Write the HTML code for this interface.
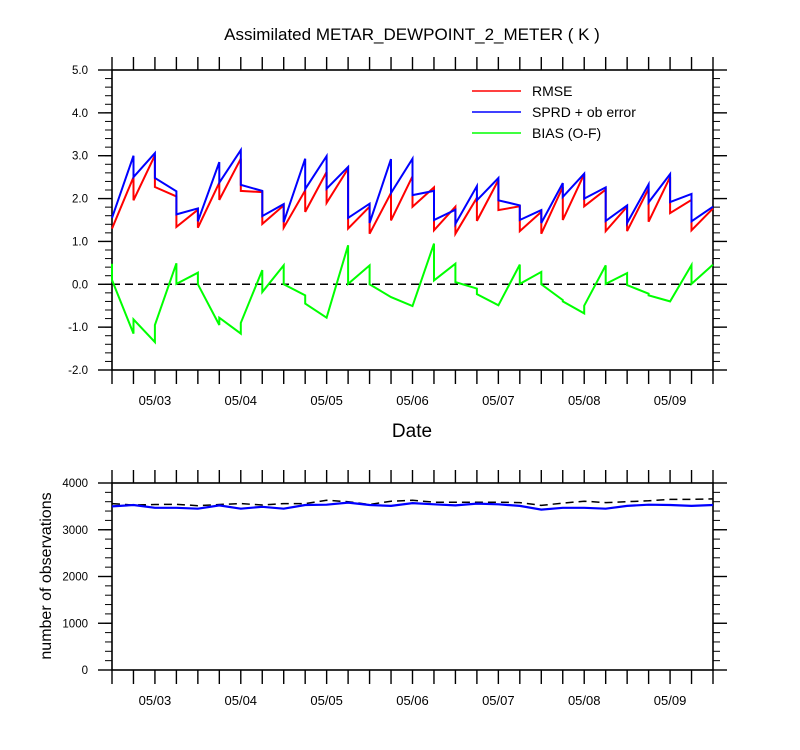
<!DOCTYPE html>
<html><head><meta charset="utf-8"><style>
html,body{margin:0;padding:0;background:#fff;}
svg{display:block;font-family:"Liberation Sans",sans-serif;}
</style></head><body>
<svg id="chart" width="800" height="750" xmlns="http://www.w3.org/2000/svg">
<text x="412" y="40" font-size="17" text-anchor="middle">Assimilated METAR_DEWPOINT_2_METER ( K )</text>
<g id="topPanel"></g>
<g id="botPanel"></g>
<text x="412" y="437" font-size="19" text-anchor="middle">Date</text>
<text transform="translate(51,576) rotate(-90)" font-size="16" text-anchor="middle">number of observations</text>
<g>
<line x1="472" y1="91" x2="521" y2="91" stroke="#ff0000" stroke-width="1.6"/>
<text x="532" y="96" font-size="14">RMSE</text>
<line x1="472" y1="112" x2="521" y2="112" stroke="#0000ff" stroke-width="1.6"/>
<text x="532" y="117" font-size="14">SPRD + ob error</text>
<line x1="472" y1="133" x2="521" y2="133" stroke="#00ff00" stroke-width="1.6"/>
<text x="532" y="138" font-size="14">BIAS (O-F)</text>
</g>
</svg>
<script>
// time index in 6h steps from 05/02 12Z
const dayLabels = ["05/03","05/04","05/05","05/06","05/07","05/08","05/09"];
const dayIndex = [2,6,10,14,18,22,26];
const topTicks = [5,4,3,2,1,0,-1,-2];
const topTickLabels = ["5.0","4.0","3.0","2.0","1.0","0.0","-1.0","-2.0"];
const botTicks = [4000,3000,2000,1000,0];
const botTickLabels = ["4000","3000","2000","1000","0"];
// prior (end of forecast) and posterior values at each 6h time
const rmsePrior = [1.30,2.50,3.01,2.05,1.74,2.37,2.93,2.15,1.84,2.19,2.62,2.70,1.81,2.13,2.52,2.26,1.81,2.02,2.43,1.82,1.69,2.27,2.57,2.21,1.81,2.23,2.50,1.97,1.77];
const rmsePost  = [1.30,1.96,2.27,1.34,1.32,1.97,2.18,1.41,1.32,1.69,1.90,1.30,1.18,1.49,1.81,1.26,1.18,1.48,1.73,1.24,1.18,1.50,1.82,1.24,1.24,1.46,1.66,1.26,1.77];
const sprdPrior = [1.55,3.00,3.06,2.17,1.77,2.85,3.13,2.18,1.87,2.93,2.99,2.74,1.88,2.92,2.93,2.18,1.74,2.29,2.48,1.84,1.73,2.36,2.58,2.26,1.84,2.33,2.57,2.11,1.81];
const sprdPost  = [1.55,2.50,2.48,1.63,1.47,2.37,2.32,1.59,1.45,2.22,2.23,1.55,1.43,2.13,2.08,1.50,1.41,1.96,1.96,1.50,1.43,2.04,2.00,1.48,1.43,1.91,1.92,1.47,1.81];
const biasPrior = [0.48,-1.15,-1.35,0.49,0.27,-0.95,-1.15,0.33,0.44,-0.26,-0.78,0.91,0.44,-0.30,-0.51,0.95,0.48,-0.10,-0.49,0.46,0.29,-0.37,-0.68,0.44,0.26,-0.22,-0.40,0.45,0.46];
const biasPost  = [0.10,-0.82,-0.95,0.01,0.00,-0.78,-0.90,-0.18,0.00,-0.45,-0.78,0.01,0.00,-0.30,-0.51,0.09,0.05,-0.23,-0.49,0.01,0.00,-0.40,-0.50,0.01,-0.02,-0.26,-0.40,0.01,0.46];
const obsUsed = [3500,3530,3470,3470,3450,3520,3450,3490,3450,3530,3535,3580,3530,3510,3570,3545,3520,3560,3545,3510,3430,3470,3470,3450,3510,3535,3530,3510,3530];
const obsPossible = [3560,3530,3540,3545,3515,3540,3560,3530,3560,3560,3630,3600,3540,3610,3630,3590,3590,3590,3590,3580,3520,3570,3610,3580,3600,3620,3650,3650,3660];

const NS="http://www.w3.org/2000/svg";
const X0=112,X1=713,NT=28;
const xs=i=>X0+(X1-X0)*i/NT;
const yTop=v=>370-(v+2)*(300/7);
const yBot=v=>670-v*(187/4000);
function mk(tag,attrs,parent){const e=document.createElementNS(NS,tag);for(const k in attrs)e.setAttribute(k,attrs[k]);parent.appendChild(e);return e;}
const gTop=document.getElementById('topPanel'), gBot=document.getElementById('botPanel');

function frame(g,y0,y1,name){
  const r=mk('rect',{x:X0,y:y0,width:X1-X0,height:y1-y0,fill:'none',stroke:'#000','stroke-width':1.6},g);
  
  
  for(let i=0;i<=NT;i++){
    const t=mk('line',{x1:xs(i),x2:xs(i),y1:y0,y2:y0-13,stroke:'#000','stroke-width':1.4},g);
    
    
    const b=mk('line',{x1:xs(i),x2:xs(i),y1:y1,y2:y1+14,stroke:'#000','stroke-width':1.4},g);
    
    
  }
  dayLabels.forEach((d,k)=>{
    const t=mk('text',{x:xs(dayIndex[k]),y:y1+35,'font-size':13,'text-anchor':'middle'},g);
    t.textContent=d;
    
    
  });
}
function yaxis(g,ticks,labels,yf,minorStep,lo,hi){
  for(let v=lo;v<=hi+1e-9;v+=minorStep){
    const y=yf(v);
    const l=mk('line',{x1:X0-7,x2:X0,y1:y,y2:y,stroke:'#000','stroke-width':1},g);
    
    
    const r=mk('line',{x1:X1,x2:X1+7,y1:y,y2:y,stroke:'#000','stroke-width':1},g);
    
    
  }
  ticks.forEach((v,k)=>{
    const y=yf(v);
    const l=mk('line',{x1:X0-14,x2:X0,y1:y,y2:y,stroke:'#000','stroke-width':1.4},g);
    
    
    const r=mk('line',{x1:X1,x2:X1+14,y1:y,y2:y,stroke:'#000','stroke-width':1.4},g);
    
    
    const t=mk('text',{x:88,y:y+4,'font-size':11.5,'text-anchor':'end'},g);
    t.textContent=labels[k];
    
    
  });
}
frame(gTop,70,370,'error-panel');
yaxis(gTop,topTicks,topTickLabels,yTop,0.2,-2,5);
frame(gBot,483,670,'obs-panel');
yaxis(gBot,botTicks,botTickLabels,yBot,200,0,4000);

const zl=mk('line',{x1:X0,x2:X1,y1:yTop(0),y2:yTop(0),stroke:'#000','stroke-width':1.5,'stroke-dasharray':'8,5'},gTop);



function saw(prior,post,color,name){
  let d='';
  for(let i=0;i<prior.length;i++){
    d+=(i?'L':'M')+xs(i).toFixed(1)+','+yTop(prior[i]).toFixed(1);
    d+='L'+xs(i).toFixed(1)+','+yTop(post[i]).toFixed(1);
  }
  const p=mk('path',{d:d,fill:'none',stroke:color,'stroke-width':2,'stroke-linejoin':'miter'},gTop);
  
  
}
saw(rmsePrior,rmsePost,'#ff0000','rmse-line');
saw(sprdPrior,sprdPost,'#0000ff','sprd-line');
saw(biasPrior,biasPost,'#00ff00','bias-line');

function line(vals,attrs,name){
  const d=vals.map((v,i)=>(i?'L':'M')+xs(i).toFixed(1)+','+yBot(v).toFixed(1)).join('');
  attrs.d=d;attrs.fill='none';
  const p=mk('path',attrs,gBot);
  
  
}
line(obsPossible,{stroke:'#000','stroke-width':1.5,'stroke-dasharray':'8,5'},'obs-possible-line');
line(obsUsed,{stroke:'#0000ff','stroke-width':2.2},'obs-used-line');
</script>
</body></html>
